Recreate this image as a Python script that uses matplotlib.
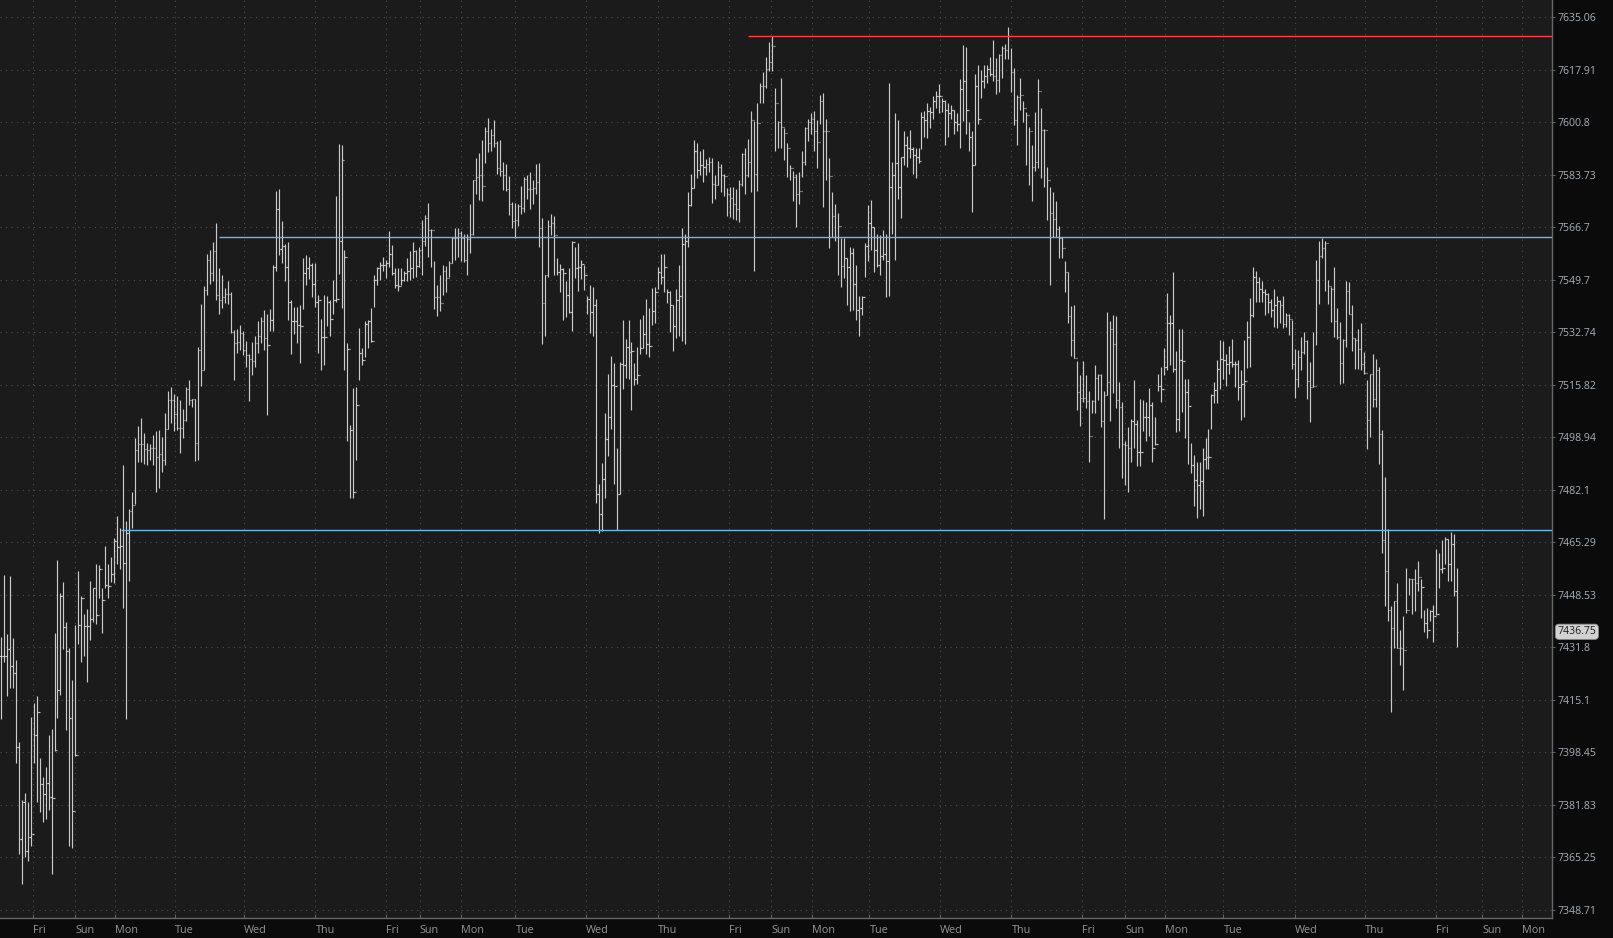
"""
Hourly OHLC bar chart, dark trading-platform style, log price axis
with three horizontal level lines.
"""

import numpy as np
import matplotlib

matplotlib.use("Agg")
import matplotlib.pyplot as plt
from matplotlib.ticker import FixedLocator, FixedFormatter, NullLocator
from matplotlib.transforms import blended_transform_factory

# bar highs, lows and closes (open = previous close)
highs = [
    7435.2, 7454.8, 7435.9, 7454.5, 7434.9, 7427.9, 7401.6, 7383.4, 7385.7, 7382.6,
    7409.7, 7414.0, 7416.2, 7396.5, 7390.7, 7393.9, 7403.8, 7405.8, 7436.3, 7459.6,
    7449.1, 7452.5, 7439.8, 7431.6, 7421.3, 7439.0, 7456.0, 7448.0, 7442.4, 7444.0,
    7452.9, 7450.6, 7458.3, 7457.9, 7450.6, 7464.1, 7458.3, 7460.7, 7466.6, 7473.7,
    7469.8, 7490.1, 7472.1, 7476.0, 7481.5, 7498.7, 7502.6, 7505.0, 7500.3, 7497.2,
    7496.7, 7499.8, 7501.1, 7501.4, 7499.2, 7506.9, 7513.9, 7515.2, 7512.8, 7512.3,
    7510.8, 7508.1, 7515.2, 7517.5, 7511.2, 7511.2, 7528.0, 7541.8, 7547.7, 7558.2,
    7559.3, 7561.8, 7568.0, 7553.5, 7551.1, 7547.2, 7549.3, 7545.7, 7533.6, 7533.9,
    7535.2, 7533.1, 7530.0, 7525.8, 7529.5, 7531.6, 7536.3, 7537.8, 7539.9, 7538.6,
    7540.2, 7554.6, 7578.5, 7579.0, 7568.7, 7561.3, 7561.8, 7543.3, 7541.0, 7541.0,
    7541.4, 7556.6, 7557.7, 7557.1, 7555.1, 7555.1, 7544.9, 7537.1, 7544.9, 7544.6,
    7543.3, 7549.6, 7577.0, 7593.7, 7593.4, 7559.3, 7529.2, 7503.0, 7514.8, 7515.2,
    7534.2, 7527.7, 7536.3, 7536.8, 7540.5, 7551.1, 7554.0, 7555.5, 7557.1, 7556.2,
    7565.5, 7560.9, 7553.5, 7553.5, 7553.5, 7552.7, 7556.6, 7559.0, 7561.8,
    7559.3, 7560.4, 7569.1, 7570.8, 7574.7, 7566.3, 7555.7, 7548.1, 7551.2, 7554.6,
    7554.3, 7555.7, 7563.5, 7566.6, 7566.6, 7565.5, 7564.6, 7564.6, 7574.1, 7582.2,
    7589.2, 7590.8, 7595.0, 7599.2, 7602.3, 7598.6, 7601.4, 7594.7, 7595.0, 7588.0,
    7587.2, 7583.4, 7574.9, 7574.7, 7574.1, 7580.0, 7583.0, 7583.6, 7584.7, 7581.9,
    7587.2, 7587.5, 7569.6, 7551.4, 7569.1, 7571.1, 7570.4, 7556.8, 7554.8, 7553.5,
    7549.2, 7553.5, 7562.4, 7560.4, 7561.5, 7556.2, 7554.6, 7544.5, 7548.1, 7547.3,
    7543.6, 7484.0, 7490.7, 7506.6, 7519.4, 7525.0, 7522.8, 7495.4, 7523.3, 7536.7,
    7530.6, 7536.7, 7529.5, 7522.8, 7528.0, 7536.9, 7538.4, 7543.6, 7540.6, 7547.0,
    7547.3, 7554.0, 7557.9, 7557.9, 7546.8, 7546.2, 7541.7, 7546.8, 7554.6, 7566.6,
    7564.6, 7578.0, 7584.1, 7595.0, 7594.2, 7591.6, 7592.0, 7588.9, 7589.4, 7589.2,
    7583.8, 7588.3, 7587.2, 7584.1, 7579.3, 7579.7, 7579.7, 7579.1, 7582.2, 7590.8,
    7592.5, 7595.3, 7604.6, 7601.2, 7607.0, 7613.7, 7617.1, 7622.1, 7627.1, 7629.0,
    7612.0, 7601.2, 7615.4, 7599.0, 7594.2, 7586.9, 7584.9, 7584.1, 7584.7, 7591.4,
    7599.4, 7602.0, 7603.7,
    7604.6, 7601.4, 7609.8, 7610.4, 7602.0, 7589.2, 7578.0, 7574.1, 7571.3, 7563.3,
    7563.3, 7556.8, 7560.4, 7560.1, 7554.6, 7544.5, 7544.5, 7561.5, 7573.8, 7575.5,
    7566.8, 7564.6, 7564.1, 7565.9, 7564.4, 7613.7, 7588.0, 7603.9, 7601.4, 7589.4,
    7598.1, 7596.4, 7598.3, 7592.7, 7592.3, 7592.3, 7604.2, 7604.6, 7607.2, 7605.9,
    7609.5, 7610.9, 7613.2, 7608.7, 7608.1, 7607.0, 7606.5, 7604.8, 7603.7, 7614.8,
    7626.0, 7625.4, 7600.9, 7598.1, 7616.5, 7619.5, 7618.0, 7619.5, 7619.5, 7622.1,
    7627.7, 7621.7, 7623.2, 7625.8, 7626.2, 7631.8, 7624.9, 7618.4, 7609.8, 7615.4,
    7607.9, 7604.2, 7599.2, 7593.4, 7604.2, 7615.0, 7605.3, 7598.6, 7586.4, 7579.7,
    7578.0, 7575.2, 7567.1, 7563.5, 7555.9, 7552.3, 7541.2, 7541.4, 7523.5, 7518.9,
    7523.5, 7518.9, 7513.8, 7511.0, 7522.2, 7519.4, 7519.4, 7513.8, 7539.2, 7536.5,
    7538.4, 7538.0, 7516.6, 7510.2, 7497.9, 7502.3, 7504.9, 7517.5, 7504.6, 7511.3,
    7510.8, 7510.2, 7514.9, 7510.2, 7505.5, 7519.4, 7521.6, 7527.8, 7545.4, 7538.4,
    7552.1, 7526.7, 7533.9, 7533.9, 7517.7, 7517.7, 7497.1, 7493.2, 7491.0, 7491.0,
    7495.4, 7498.8, 7501.6,
    7513.0, 7516.7, 7523.7, 7530.3, 7530.1, 7525.8, 7528.2, 7530.6, 7523.5, 7523.7,
    7520.5, 7530.3, 7536.5, 7543.8, 7553.7, 7552.4, 7550.7, 7549.2, 7546.7, 7545.3,
    7543.5, 7546.7, 7544.6, 7543.2, 7544.6, 7538.9, 7538.5, 7536.8, 7527.4, 7526.9,
    7531.2, 7532.8, 7530.3, 7523.1, 7532.8, 7556.1, 7562.3, 7563.1, 7562.3, 7549.6,
    7547.3, 7553.7, 7540.6, 7536.0, 7530.6, 7549.2, 7548.9, 7541.7, 7531.0, 7533.9,
    7535.7, 7526.4, 7517.5, 7519.4, 7525.8, 7524.2, 7521.5, 7501.2, 7486.2, 7469.5,
    7444.9, 7446.5, 7452.4, 7437.4, 7441.7, 7457.2, 7454.0, 7453.5, 7456.7, 7459.4,
    7453.5, 7443.8, 7444.3, 7443.8, 7445.4, 7463.1, 7462.0, 7466.0, 7466.9, 7466.3,
    7468.5, 7467.9, 7457.2,
]

lows = [
    7408.9, 7427.1, 7416.2, 7419.0, 7419.0, 7395.0, 7366.4, 7356.7, 7365.3, 7364.1,
    7368.7, 7395.0, 7382.6, 7379.5, 7376.5, 7377.5, 7380.3, 7359.9, 7398.9, 7409.4,
    7416.6, 7431.3, 7405.4, 7368.7, 7368.3, 7397.3, 7432.9, 7427.0, 7429.0, 7420.8,
    7434.1, 7439.8, 7439.3, 7447.5, 7436.3, 7450.6, 7447.5, 7452.6, 7452.2, 7458.3,
    7456.8, 7444.4, 7408.9, 7453.0, 7469.8, 7477.6, 7490.9, 7490.9, 7490.4, 7490.1,
    7491.7, 7490.1, 7481.5, 7482.6, 7487.8, 7490.1, 7501.5, 7503.4, 7501.1, 7501.4,
    7494.0, 7498.7, 7504.2, 7509.2, 7508.6, 7491.4, 7491.7, 7515.5, 7520.6, 7544.9,
    7548.3, 7549.3, 7543.3, 7538.6, 7540.5, 7542.2, 7541.8, 7532.4, 7517.5, 7526.1,
    7526.9, 7525.3, 7521.7, 7510.5, 7519.1, 7521.7, 7526.1, 7529.2, 7526.9, 7506.1,
    7533.1, 7533.1, 7552.7, 7557.7, 7555.1, 7549.3, 7536.8, 7525.8, 7532.1, 7529.2,
    7522.7, 7540.2, 7548.0, 7549.9, 7544.1, 7541.0, 7526.1, 7520.6, 7522.2, 7534.7,
    7531.6, 7538.6, 7542.5, 7551.5, 7540.5, 7520.6, 7497.9, 7479.5, 7479.5, 7491.7,
    7517.5, 7522.2, 7524.9, 7527.7, 7529.5, 7541.0, 7548.0, 7549.6, 7552.7, 7550.4,
    7554.0, 7551.1, 7547.2, 7546.1, 7548.0, 7549.3, 7549.3, 7549.6, 7550.4,
    7550.7, 7554.0, 7551.2, 7560.7, 7557.0, 7553.7, 7540.3, 7538.0, 7539.5, 7544.7,
    7545.6, 7550.7, 7555.1, 7556.2, 7557.0, 7555.9, 7555.5, 7551.4, 7558.5, 7564.1,
    7577.4, 7575.5, 7575.2, 7587.5, 7591.2, 7591.4, 7592.7, 7584.1, 7583.4, 7578.9,
    7578.6, 7570.8, 7566.6, 7563.3, 7567.1, 7571.1, 7571.5, 7576.0, 7572.6, 7574.4,
    7577.4, 7560.4, 7529.1, 7531.4, 7550.7, 7564.1, 7551.2, 7551.2, 7545.6, 7536.7,
    7537.6, 7538.9, 7533.1, 7550.3, 7546.2, 7549.9, 7546.5, 7538.7, 7532.5, 7531.7,
    7477.9, 7468.25, 7469.0, 7479.6, 7493.0, 7501.6, 7484.0, 7469.3, 7480.7, 7514.6,
    7518.0, 7517.7, 7507.7, 7515.7, 7516.1, 7525.8, 7527.8, 7525.8, 7524.7, 7535.0,
    7535.8, 7546.8, 7548.4, 7545.6, 7542.3, 7532.8, 7526.7, 7530.9, 7531.4, 7530.0,
    7529.1, 7560.4, 7573.5, 7579.5, 7582.7, 7583.8, 7581.4, 7583.8, 7584.7, 7574.7,
    7575.8, 7580.5, 7578.2, 7576.9, 7570.4, 7570.0, 7569.3, 7569.1, 7568.5, 7580.2,
    7577.4, 7583.0, 7578.0, 7552.6, 7578.6, 7607.0, 7607.0, 7612.0, 7617.6, 7617.6,
    7591.4, 7592.5, 7592.3, 7588.6, 7583.0, 7581.9, 7575.2, 7566.8, 7574.1, 7583.0,
    7586.9, 7594.7, 7597.0,
    7591.6, 7585.8, 7600.3, 7573.2, 7581.9, 7560.1, 7563.7, 7562.4, 7551.2, 7547.3,
    7550.3, 7541.4, 7539.5, 7540.1, 7536.7, 7531.4, 7538.4, 7550.7, 7555.7, 7559.3,
    7552.3, 7553.7, 7551.2, 7556.2, 7544.0, 7544.5, 7564.6, 7556.2, 7576.0, 7569.6,
    7586.9, 7586.4, 7589.2, 7584.1, 7582.7, 7587.5, 7592.0, 7595.9, 7595.6, 7599.0,
    7602.0, 7605.3, 7603.9, 7604.2, 7593.4, 7595.9, 7602.0, 7597.0, 7598.1, 7592.5,
    7601.2, 7597.0, 7591.6, 7571.5, 7586.9, 7600.3, 7608.7, 7612.0, 7613.7, 7615.9,
    7614.3, 7610.1, 7610.6, 7615.4, 7621.3, 7621.5, 7610.6, 7599.8, 7593.4, 7604.8,
    7600.9, 7586.9, 7580.5, 7575.2, 7584.9, 7586.0, 7582.7, 7579.7, 7569.1, 7548.1,
    7563.5, 7563.5, 7556.8, 7556.8, 7545.6, 7535.6, 7525.0, 7524.4, 7507.7, 7502.7,
    7510.2, 7508.3, 7491.0, 7506.6, 7506.6, 7511.0, 7502.1, 7472.7, 7512.7, 7504.3,
    7513.3, 7508.3, 7495.4, 7485.9, 7483.7, 7481.5, 7491.0, 7495.4, 7489.8, 7489.8,
    7501.0, 7497.9, 7499.3, 7491.0, 7496.5, 7513.8, 7510.2, 7518.9, 7520.5, 7522.2,
    7520.0, 7500.8, 7501.0, 7507.1, 7498.8, 7490.4, 7487.6, 7476.9, 7473.0, 7475.8,
    7473.6, 7488.7, 7488.7,
    7501.7, 7510.0, 7510.0, 7514.6, 7517.8, 7515.6, 7519.4, 7521.5, 7515.1, 7510.8,
    7504.6, 7505.5, 7521.3, 7521.5, 7537.6, 7542.4, 7542.4, 7542.4, 7538.2, 7538.9,
    7537.6, 7534.4, 7534.2, 7535.7, 7534.2, 7534.6, 7532.0, 7521.0, 7511.7, 7515.1,
    7520.5, 7525.8, 7511.4, 7503.8, 7515.1, 7528.5, 7541.9, 7556.9, 7546.2, 7541.9,
    7536.0, 7531.2, 7530.6, 7516.0, 7516.4, 7528.0, 7538.7, 7526.7, 7521.0, 7521.0,
    7520.5, 7519.2, 7495.3, 7499.0, 7508.7, 7508.7, 7490.4, 7462.0, 7444.9, 7440.1,
    7411.1, 7431.5, 7431.5, 7426.1, 7418.1, 7442.7, 7448.6, 7442.4, 7443.3, 7449.9,
    7441.1, 7436.6, 7434.7, 7440.1, 7433.6, 7442.2, 7450.8, 7455.6, 7458.5, 7452.9,
    7452.9, 7448.1, 7432.0,
]

closes = [
    7429.0, 7429.0, 7431.3, 7425.9, 7423.6, 7400.1, 7371.1, 7382.6, 7367.2, 7371.8,
    7372.6, 7404.0, 7411.2, 7388.5, 7385.4, 7388.8, 7384.2, 7383.9, 7399.2, 7418.2,
    7448.0, 7438.3, 7430.5, 7409.4, 7380.0, 7397.5, 7439.0, 7447.5, 7438.7, 7438.7,
    7440.9, 7450.6, 7442.1, 7456.8, 7446.8, 7451.7, 7451.4, 7455.3, 7465.8, 7463.8,
    7464.1, 7458.7, 7468.2, 7475.2, 7477.3, 7494.8, 7496.8, 7496.8, 7495.1, 7494.8,
    7495.6, 7495.6, 7492.5, 7493.6, 7491.7, 7501.5, 7510.8, 7510.8, 7506.5, 7501.8,
    7501.8, 7504.5, 7514.4, 7510.8, 7511.2, 7497.2, 7526.9, 7520.6, 7546.5, 7556.2,
    7551.9, 7559.0, 7544.9, 7543.3, 7544.1, 7545.2, 7545.2, 7532.7, 7529.2, 7529.7,
    7532.4, 7526.9, 7525.3, 7524.2, 7523.4, 7529.2, 7531.6, 7536.3, 7530.8, 7528.5,
    7536.8, 7554.0, 7572.7, 7559.8, 7560.5, 7554.0, 7542.5, 7536.3, 7536.3, 7535.2,
    7534.7, 7551.9, 7553.5, 7554.6, 7548.3, 7542.5, 7543.3, 7531.1, 7531.1, 7542.5,
    7537.1, 7543.3, 7543.6, 7562.1, 7588.7, 7557.1, 7527.4, 7501.4, 7481.5, 7509.2,
    7526.1, 7523.8, 7535.5, 7536.3, 7530.0, 7549.6, 7553.5, 7554.6, 7554.6, 7555.1,
    7558.2, 7551.9, 7548.0, 7547.7, 7549.6, 7551.9, 7552.7, 7553.5, 7559.0,
    7554.3, 7559.3, 7562.4, 7569.6, 7565.9, 7565.9, 7544.3, 7544.3, 7542.1, 7552.6,
    7550.3, 7555.1, 7563.3, 7563.3, 7564.8, 7563.3, 7556.2, 7562.9, 7564.4, 7581.9,
    7583.0, 7583.8, 7580.0, 7598.1, 7594.2, 7596.8, 7594.2, 7585.8, 7584.9, 7583.6,
    7579.1, 7574.1, 7568.9, 7569.1, 7573.5, 7573.0, 7582.5, 7579.1, 7579.1, 7579.3,
    7581.4, 7566.5, 7542.3, 7551.2, 7567.1, 7568.0, 7564.1, 7552.3, 7553.2, 7551.8,
    7544.7, 7539.2, 7561.8, 7553.5, 7553.7, 7554.8, 7551.4, 7543.6, 7539.2, 7541.4,
    7480.7, 7474.4, 7485.7, 7498.5, 7505.5, 7515.7, 7515.5, 7480.7, 7522.4, 7522.2,
    7528.0, 7526.4, 7526.7, 7517.7, 7519.1, 7527.6, 7532.2, 7528.9, 7528.3, 7539.5,
    7545.9, 7552.3, 7550.7, 7553.7, 7545.9, 7541.7, 7534.7, 7543.2, 7544.5, 7561.3,
    7562.2, 7573.8, 7579.5, 7591.4, 7585.3, 7586.9, 7586.4, 7587.2, 7588.0, 7580.8,
    7580.5, 7586.4, 7583.6, 7583.4, 7577.4, 7576.3, 7574.1, 7572.6, 7580.8, 7590.5,
    7583.8, 7588.0, 7601.4, 7584.1, 7600.5, 7612.6, 7612.6, 7618.2, 7620.6, 7625.8,
    7607.0, 7600.9, 7599.2, 7597.2, 7592.3, 7586.0, 7583.0, 7577.4, 7578.6, 7587.8,
    7599.0, 7600.9, 7602.0,
    7598.1, 7594.5, 7607.6, 7598.1, 7598.1, 7583.4, 7570.2, 7563.7, 7567.1, 7554.3,
    7556.8, 7553.7, 7558.5, 7548.4, 7540.1, 7540.6, 7544.3, 7560.7, 7568.0, 7566.8,
    7559.3, 7554.6, 7557.4, 7557.9, 7555.7, 7579.7, 7583.6, 7587.5, 7579.7, 7589.4,
    7593.4, 7592.5, 7592.0, 7590.3, 7589.4, 7588.3, 7602.6, 7601.4, 7604.6, 7604.2,
    7607.9, 7609.5, 7609.5, 7607.9, 7604.8, 7603.7, 7604.8, 7600.9, 7600.3, 7611.5,
    7614.3, 7604.8, 7596.1, 7586.9, 7612.6, 7602.0, 7614.3, 7615.9, 7618.2, 7616.5,
    7615.9, 7614.6, 7622.6, 7624.9, 7624.3, 7628.8, 7617.3, 7601.4, 7609.2, 7609.8,
    7605.3, 7603.1, 7598.1, 7586.4, 7588.0, 7610.9, 7598.3, 7598.3, 7582.2, 7571.3,
    7569.3, 7566.3, 7563.3, 7560.1, 7552.3, 7538.0, 7530.2, 7524.4, 7513.5, 7511.6,
    7511.6, 7510.5, 7499.3, 7510.5, 7518.0, 7518.9, 7504.3, 7512.7, 7516.6, 7533.9,
    7528.9, 7511.0, 7508.8, 7496.8, 7496.5, 7495.4, 7504.3, 7503.2, 7494.3, 7494.3,
    7505.5, 7505.5, 7509.4, 7495.6, 7496.8, 7515.5, 7514.4, 7521.6, 7535.6, 7535.6,
    7520.9, 7504.9, 7523.9, 7523.5, 7513.5, 7509.0, 7490.1, 7485.4, 7483.7, 7484.8,
    7492.1, 7492.6, 7492.6,
    7512.7, 7514.0, 7521.0, 7524.2, 7523.7, 7522.6, 7523.1, 7522.6, 7522.4, 7515.1,
    7516.2, 7517.2, 7531.2, 7538.2, 7550.5, 7548.9, 7546.7, 7545.7, 7545.1, 7542.4,
    7540.0, 7541.4, 7543.0, 7541.4, 7535.5, 7538.2, 7537.1, 7522.6, 7517.8, 7524.8,
    7526.4, 7529.9, 7517.2, 7515.1, 7515.5, 7549.6, 7557.4, 7560.1, 7561.7, 7547.8,
    7546.7, 7536.5, 7531.2, 7522.8, 7530.3, 7546.2, 7538.7, 7531.0, 7530.3, 7527.4,
    7522.6, 7519.6, 7504.4, 7519.2, 7511.4, 7520.5, 7500.1, 7466.0, 7456.1, 7443.8,
    7438.1, 7446.5, 7431.7, 7431.5, 7431.0, 7443.8, 7453.5, 7453.5, 7452.4, 7454.2,
    7451.0, 7439.5, 7437.4, 7443.3, 7441.7, 7442.4, 7456.7, 7457.2, 7466.3, 7458.3,
    7464.9, 7449.9, 7436.75,
]

# day separators, in bar positions
day_ticks = [
    10.7, 25.0, 38.4, 58.2, 81.5, 105.3, 129.0, 140.2, 153.9, 172.2,
    195.8, 219.8, 243.5, 257.8, 271.3, 290.6, 314.2, 338.1, 361.8, 376.1,
    389.5, 409.0, 432.8, 456.3, 480.2, 495.6, 509.0,
]
day_labels = [
    "Fri", "Sun", "Mon", "Tue", "Wed", "Thu", "Fri", "Sun", "Mon", "Tue",
    "Wed", "Thu", "Fri", "Sun", "Mon", "Tue", "Wed", "Thu", "Fri", "Sun",
    "Mon", "Tue", "Wed", "Thu", "Fri", "Sun", "Mon",
]

price_ticks = [
    7635.06, 7617.91, 7600.8, 7583.73, 7566.7, 7549.7, 7532.74, 7515.82, 7498.94,
    7482.1, 7465.29, 7448.53, 7431.8, 7415.1, 7398.45, 7381.83, 7365.25, 7348.71,
]

# drawn levels: price and the bar where each starts
level_prices = [7628.95, 7563.4, 7469.1]
level_starts = [250.0, 73.0, 40.1]
level_colors = ["#ff3f3f", "#6cb8e8", "#6cb8e8"]

last_price = closes[-1]

BG = "#0b0b0b"
PANEL = "#1b1b1b"
BAR = "#cacaca"
GRID = "#4e4e4e"
AXIS = "#666666"
FONT = ["Open Sans", "DejaVu Sans"]


def main():
    plt.rcParams["font.family"] = FONT

    fig = plt.figure(figsize=(16.13, 9.38), dpi=100, facecolor=BG)
    ax = fig.add_axes([0, 20 / 938, 1552 / 1613, 918 / 938])
    ax.set_facecolor(PANEL)

    x = np.arange(len(highs))
    opens = [closes[0]] + closes[:-1]
    ax.vlines(x, lows, highs, color=BAR, lw=0.85, zorder=2)
    ax.hlines(opens, x - 0.42, x, color=BAR, lw=0.85, zorder=2)
    ax.hlines(closes, x, x + 0.42, color=BAR, lw=0.85, zorder=2)

    xmax = 518.9
    for price, start, col in zip(level_prices, level_starts, level_colors):
        ax.hlines(price, start, xmax, color=col, lw=1.0, zorder=3)

    ax.set_yscale("log")
    ax.set_ylim(7346.14, 7640.72)
    ax.set_xlim(-0.23, xmax)

    ax.yaxis.tick_right()
    ax.yaxis.set_major_locator(FixedLocator(price_ticks))
    ax.yaxis.set_major_formatter(FixedFormatter([f"{v:g}" for v in price_ticks]))
    ax.yaxis.set_minor_locator(NullLocator())
    ax.tick_params(axis="y", direction="out", length=2.5, width=0.7, color=AXIS,
                   labelcolor="#a9afb6", labelsize=7.6, pad=1.5)

    ax.set_xticks(day_ticks, day_labels)
    ax.xaxis.set_minor_locator(NullLocator())
    ax.tick_params(axis="x", direction="in", length=3, width=0.7, color=AXIS,
                   labelcolor="#969696", labelsize=7.8, pad=5)
    for lbl in ax.get_xticklabels():
        lbl.set_horizontalalignment("left")

    ax.grid(True, color=GRID, linestyle=(0, (1, 4)), linewidth=0.8)
    ax.set_axisbelow(True)

    for side in ("top", "left"):
        ax.spines[side].set_visible(False)
    for side in ("right", "bottom"):
        ax.spines[side].set_color(AXIS)
        ax.spines[side].set_linewidth(1.0)

    # last price tag on the price axis
    trans = blended_transform_factory(ax.transAxes, ax.transData)
    ax.text(1.0035, last_price, f"{last_price:g}", transform=trans, ha="left",
            va="center", fontsize=7.6, color="#1c1c1c", clip_on=False, zorder=5,
            bbox=dict(boxstyle="round,pad=0.2,rounding_size=0.35",
                      fc="#d2d2d2", ec="#8a8a8a", lw=0.6))

    fig.savefig("out.png", dpi=100, facecolor=fig.get_facecolor())
    plt.close(fig)


if __name__ == "__main__":
    main()
